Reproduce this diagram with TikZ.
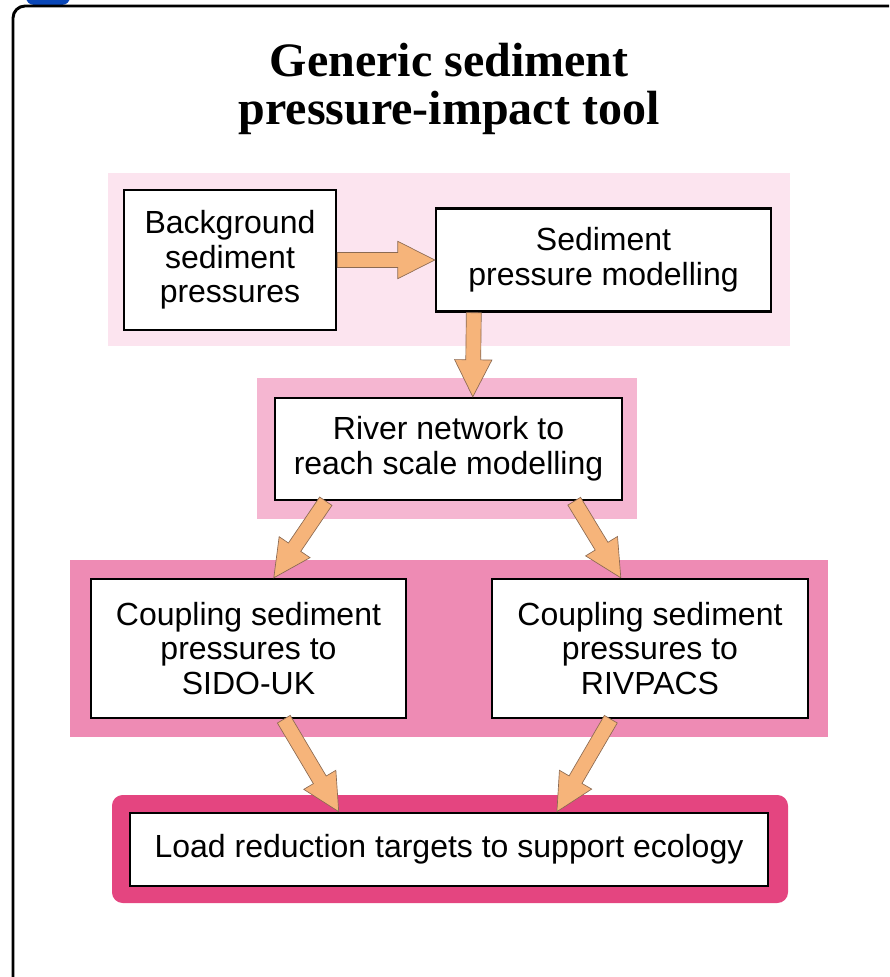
\documentclass[tikz,border=0pt]{standalone}
\usepackage{fontspec}
\setmainfont{Liberation Sans}
\newfontfamily\titlefont{Liberation Serif}
\usetikzlibrary{calc}
\definecolor{bandA}{HTML}{FCE4EF}
\definecolor{bandB}{HTML}{F5B6D1}
\definecolor{bandC}{HTML}{EE8BB4}
\definecolor{bandD}{HTML}{E44580}
\definecolor{arrowfill}{HTML}{F6B47A}
\definecolor{arrowline}{HTML}{8C6A52}
\definecolor{tabblue}{HTML}{0A47B8}
\tikzstyle{fatarrow} = [fill=arrowfill, draw=arrowline, line width=0.5pt, line join=miter]
% thick block arrow from one point to another
\newcommand{\fatarrow}[2]{%
  \path[fatarrow] let \p1=#1, \p2=#2, \n1={atan2(\y2-\y1,\x2-\x1)}, \n2={veclen(\x2-\x1,\y2-\y1)} in
    [shift={(\p1)}, rotate=\n1] (0pt,-5.6pt) -- ({\n2*1pt-27.75pt},-5.6pt) -- ({\n2*1pt-27.75pt},-14pt)
    -- ({\n2*1pt},0pt) -- ({\n2*1pt-27.75pt},14pt) -- ({\n2*1pt-27.75pt},5.6pt) -- (0pt,5.6pt) -- cycle;}

\begin{document}
\begin{tikzpicture}[x=0.75pt, y=-0.75pt,
  box/.style = {draw, line width=1.8pt, fill=white, inner sep=0pt, align=center,
                font=\fontsize{24}{26}\selectfont}]
\useasboundingbox (0,0) rectangle (889,977);
\clip (0,0) rectangle (889,977);

% frame
\fill[tabblue, rounded corners=6] (26,-20) rectangle (70,5);
\draw[line width=2.2pt, rounded corners=9] (13,990) -- (13,6) -- (900,6);

\node[font=\titlefont\bfseries\fontsize{36}{36}\selectfont, align=center] (title) at (449,89)
  {Generic sediment\\pressure-impact tool};

% bands
\fill[bandA] (108,173) rectangle (790,346);
\fill[bandB] (257,378) rectangle (637,519);
\fill[bandC] (70,560) rectangle (828,737);
\fill[bandD, rounded corners=8] (112,795) rectangle (788,903);

\node[box, minimum width=159pt, minimum height=105pt] (bg) at (230,260) {Background\\sediment\\pressures};
\node[box, minimum width=251.25pt, minimum height=77.25pt] (spm) at (603.5,260) {Sediment\\pressure modelling};
\node[box, minimum width=260.25pt, minimum height=76.5pt] (river) at (448.5,449) {River network to\\reach scale modelling};
\node[box, minimum width=236.25pt, minimum height=104.25pt] (sido) at (248.5,648.5) {Coupling sediment\\pressures to\\SIDO-UK};
\node[box, minimum width=237pt, minimum height=104.25pt] (rivpacs) at (650,648.5) {Coupling sediment\\pressures to\\RIVPACS};
\node[box, minimum width=478.5pt, minimum height=54.75pt] (load) at (449,849.5) {Load reduction targets to support ecology};

\fatarrow{(bg.east)}{(spm.west)}
\fatarrow{($(spm.south west)+(39,0)$)}{($(river.north west)+(199,0)$)}
\fatarrow{($(river.south west)+(52,0)$)}{($(sido.north west)+(184,0)$)}
\fatarrow{($(river.south east)+(-49,0)$)}{($(rivpacs.north west)+(130,0)$)}
\fatarrow{($(sido.south west)+(194,0)$)}{($(load.north west)+(210,0)$)}
\fatarrow{($(rivpacs.south west)+(120,0)$)}{($(load.north west)+(428,0)$)}
\end{tikzpicture}
\end{document}
